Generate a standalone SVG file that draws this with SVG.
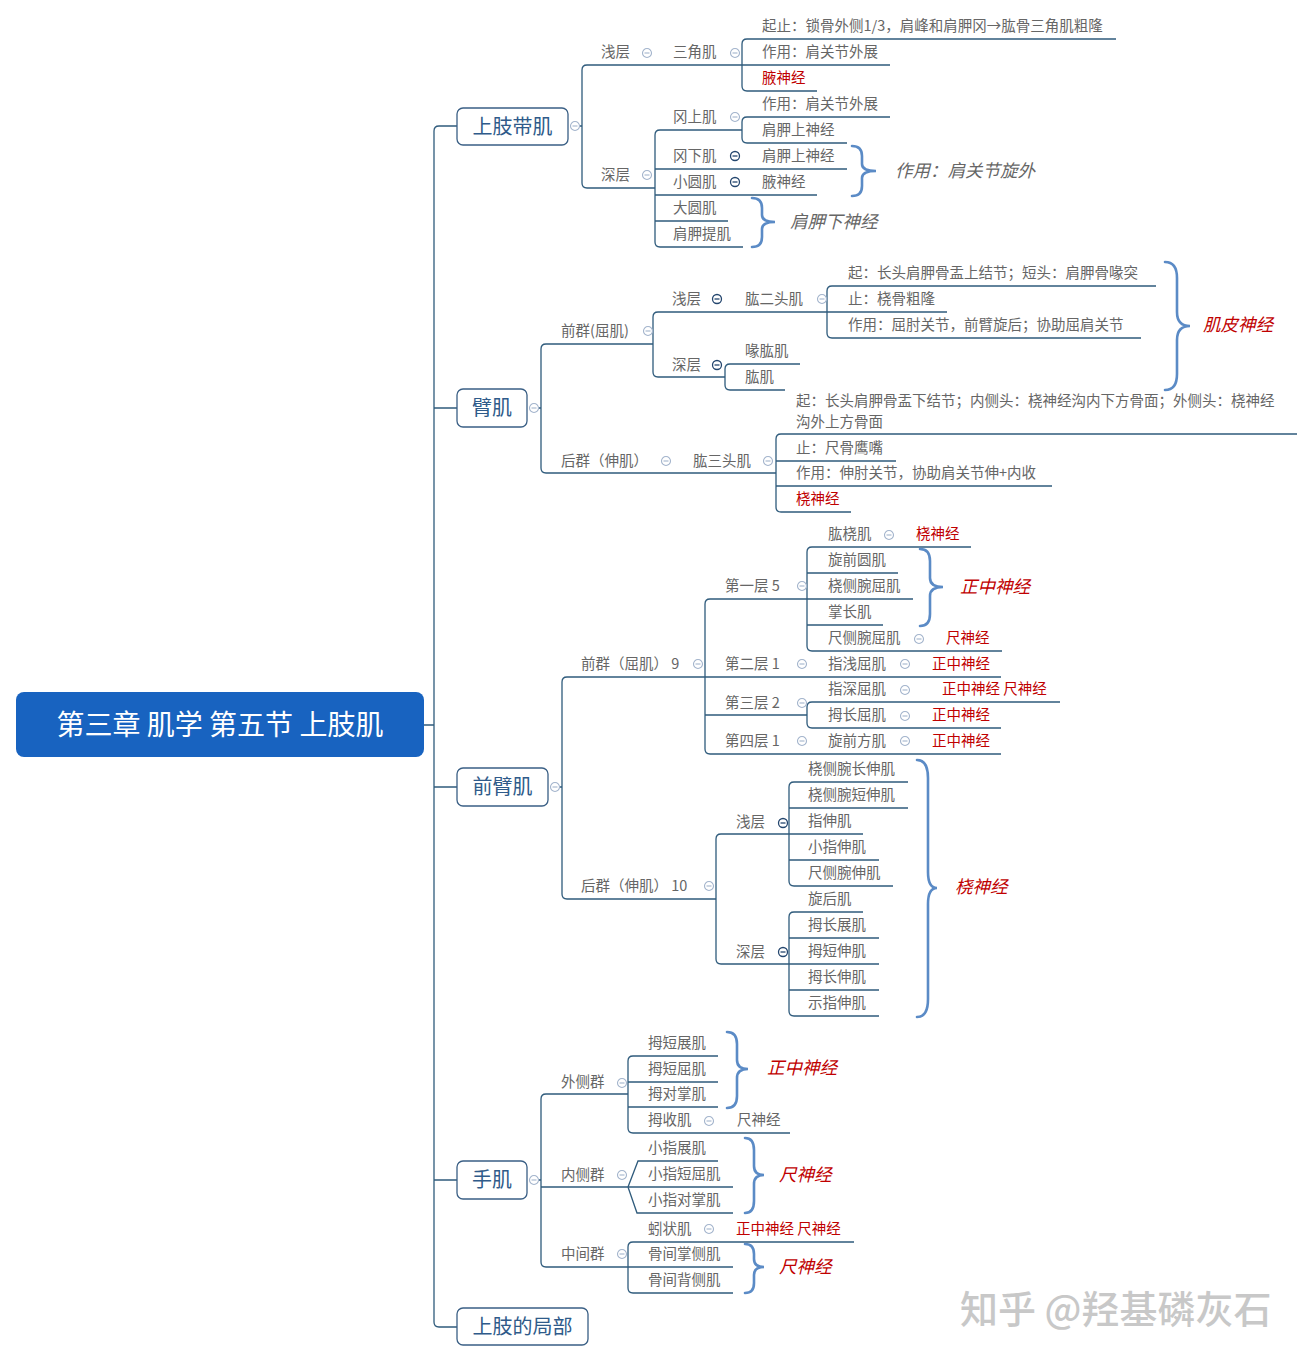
<svg xmlns="http://www.w3.org/2000/svg" width="1314" height="1363" viewBox="0 0 1314 1363">
<style>
text{font-family:"Noto Sans CJK SC","Noto Sans",sans-serif;}
.t{font-size:14.5px;fill:#666;}
.r{font-size:14.5px;fill:#c00000;}
.it{font-size:17.5px;font-style:italic;fill:#666;}
.ir{font-size:17.5px;font-style:italic;fill:#c00000;}
.mn{font-size:20px;fill:#2f5b8a;text-anchor:middle;}
.box{fill:#fff;stroke:#3a5f85;stroke-width:1.3;}
.ln{fill:none;stroke:#2f5b7c;stroke-width:1.3;}
.br{fill:none;stroke:#5b8bc6;stroke-width:2.6;stroke-linecap:round;}
.mk{fill:#fff;stroke:#a3b4cc;stroke-width:1.1;}
.mkd{fill:#fff;stroke:#24466e;stroke-width:1.3;}
</style>
<defs>
<g id="m"><circle r="4.5" class="mk"/><path d="M-2.5 0H2.5" stroke="#a3b4cc" stroke-width="1.1"/></g>
<g id="md"><circle r="4.5" class="mkd"/><path d="M-2.5 0H2.5" stroke="#24466e" stroke-width="1.3"/></g>
</defs>

<g id="connectors" class="ln">
<!-- trunk -->
<path d="M457 126H439Q434 126 434 131V1322Q434 1327 439 1327H457M434 408H457M434 787H457M434 1180H457M424 725H434"/>
<!-- 上肢带肌 -->
<path d="M580 126H582M890 65H587Q582 65 582 70V183Q582 188 587 188H655"/>
<path d="M1116 39H747Q742 39 742 44V86Q742 91 747 91H817"/>
<path d="M742 130H660Q655 130 655 135V242Q655 247 660 247H743M655 169H847M655 195H817M655 221H728"/>
<path d="M890 117H747Q742 117 742 122V138Q742 143 747 143H847"/>
<!-- 臂肌 -->
<path d="M539 408H541M653 344H546Q541 344 541 349V468Q541 473 546 473H776"/>
<path d="M827 312H658Q653 312 653 317V372Q653 377 658 377H725M827 312H947"/>
<path d="M800 364H730Q725 364 725 369V385Q725 390 730 390H785"/>
<path d="M1156 286H832Q827 286 827 291V333Q827 338 832 338H1141"/>
<path d="M1297 434H781Q776 434 776 439V507Q776 512 781 512H851M776 461H896M776 486H1052"/>
<!-- 前臂肌 -->
<path d="M560 787H562M1001 677H567Q562 677 562 682V894Q562 899 567 899H716"/>
<path d="M913 599H710Q705 599 705 604V749Q705 754 710 754H1001M705 715H807"/>
<path d="M971 547H812Q807 547 807 552V646Q807 651 812 651H1002M807 573H898M807 625H883"/>
<path d="M1060 702H812Q807 702 807 707V723Q807 728 812 728H1001"/>
<path d="M863 834H721Q716 834 716 839V959Q716 964 721 964H879"/>
<path d="M908 782H794Q789 782 789 787V881Q789 886 794 886H893M789 808H908M789 860H879"/>
<path d="M863 912H794Q789 912 789 917V1011Q789 1016 794 1016H879M789 938H879M789 990H879"/>
<!-- 手肌 -->
<path d="M539 1180H541M628 1094H546Q541 1094 541 1099V1262Q541 1267 546 1267H733M541 1187H733"/>
<path d="M718 1056H633Q628 1056 628 1061V1128Q628 1133 633 1133H790M628 1082H718M628 1107H718"/>
<path d="M628 1187L638 1161H718M628 1187L637 1213H733"/>
<path d="M854 1242H633Q628 1242 628 1247V1288Q628 1293 633 1293H733"/>
</g>

<g id="braces" class="br">
<path d="M852 146Q862 146 862 156V164Q862 171 876 171Q862 171 862 178V186Q862 196 852 196"/>
<path d="M752 198Q762 198 762 208V215Q762 222 775 222Q762 222 762 229V237Q762 247 752 247"/>
<path d="M1165 262Q1177 262 1177 278V312Q1177 326 1190 326Q1177 326 1177 340V374Q1177 390 1165 390"/>
<path d="M920 549Q930 549 930 561V578Q930 587 943 587Q930 587 930 596V614Q930 626 920 626"/>
<path d="M917 760Q928 760 928 778V872Q928 888 937 888Q928 888 928 904V999Q928 1017 917 1017"/>
<path d="M727 1032Q737 1032 737 1044V1060Q737 1069 748 1069Q737 1069 737 1078V1096Q737 1108 727 1108"/>
<path d="M745 1138Q754 1138 754 1150V1166Q754 1175 764 1175Q754 1175 754 1184V1201Q754 1213 745 1213"/>
<path d="M745 1244Q754 1244 754 1254V1259Q754 1267 764 1267Q754 1267 754 1275V1283Q754 1293 745 1293"/>
</g>

<g id="root">
<rect x="16" y="692" width="408" height="65" rx="8" fill="#1863c0"/>
<text x="220" y="735" font-size="28" fill="#fff" text-anchor="middle">第三章 肌学 第五节 上肢肌</text>
</g>

<g id="n-shangzhidaiji">
<rect class="box" x="457" y="108" width="111" height="37" rx="6"/>
<text class="mn" x="512.5" y="134">上肢带肌</text>
<use href="#m" x="575" y="126"/>
<text class="t" x="601" y="57">浅层</text><use href="#m" x="647" y="53"/>
<text class="t" x="673" y="57">三角肌</text><use href="#m" x="735" y="53"/>
<text class="t" x="762" y="31">起止：锁骨外侧1/3，肩峰和肩胛冈→肱骨三角肌粗隆</text>
<text class="t" x="762" y="57">作用：肩关节外展</text>
<text class="r" x="762" y="83">腋神经</text>
<text class="t" x="601" y="180">深层</text><use href="#m" x="647" y="175"/>
<text class="t" x="673" y="122">冈上肌</text><use href="#m" x="735" y="117"/>
<text class="t" x="762" y="109">作用：肩关节外展</text>
<text class="t" x="762" y="135">肩胛上神经</text>
<text class="t" x="673" y="161">冈下肌</text><use href="#md" x="735" y="156"/>
<text class="t" x="762" y="161">肩胛上神经</text>
<text class="t" x="673" y="187">小圆肌</text><use href="#md" x="735" y="182"/>
<text class="t" x="762" y="187">腋神经</text>
<text class="t" x="673" y="213">大圆肌</text>
<text class="t" x="673" y="239">肩胛提肌</text>
<text class="it" x="895" y="177">作用：肩关节旋外</text>
<text class="it" x="790" y="228">肩胛下神经</text>
</g>

<g id="n-biji">
<rect class="box" x="457" y="389" width="70" height="38" rx="6"/>
<text class="mn" x="492" y="415">臂肌</text>
<use href="#m" x="534" y="408"/>
<text class="t" x="561" y="336">前群(屈肌)</text><use href="#m" x="648" y="331"/>
<text class="t" x="672" y="304">浅层</text><use href="#md" x="717" y="299"/>
<text class="t" x="745" y="304">肱二头肌</text><use href="#m" x="822" y="299"/>
<text class="t" x="848" y="278">起：长头肩胛骨盂上结节；短头：肩胛骨喙突</text>
<text class="t" x="848" y="304">止：桡骨粗隆</text>
<text class="t" x="848" y="330">作用：屈肘关节，前臂旋后；协助屈肩关节</text>
<text class="t" x="672" y="370">深层</text><use href="#md" x="717" y="365"/>
<text class="t" x="745" y="356">喙肱肌</text>
<text class="t" x="745" y="382">肱肌</text>
<text class="ir" x="1203" y="331">肌皮神经</text>
<text class="t" x="561" y="466">后群（伸肌）</text><use href="#m" x="666" y="461"/>
<text class="t" x="693" y="466">肱三头肌</text><use href="#m" x="768" y="461"/>
<text class="t" x="796" y="406">起：长头肩胛骨盂下结节；内侧头：桡神经沟内下方骨面；外侧头：桡神经<tspan x="796" dy="21">沟外上方骨面</tspan></text>
<text class="t" x="796" y="453">止：尺骨鹰嘴</text>
<text class="t" x="796" y="478">作用：伸肘关节，协助肩关节伸+内收</text>
<text class="r" x="796" y="504">桡神经</text>
</g>

<g id="n-qianbiji">
<rect class="box" x="457" y="768" width="91" height="38" rx="6"/>
<text class="mn" x="502.5" y="794">前臂肌</text>
<use href="#m" x="555" y="787"/>
<text class="t" x="581" y="669">前群（屈肌） 9</text><use href="#m" x="698" y="664"/>
<text class="t" x="725" y="591">第一层 5</text><use href="#m" x="802" y="586"/>
<text class="t" x="828" y="539">肱桡肌</text><use href="#m" x="889" y="535"/>
<text class="r" x="916" y="539">桡神经</text>
<text class="t" x="828" y="565">旋前圆肌</text>
<text class="t" x="828" y="591">桡侧腕屈肌</text>
<text class="t" x="828" y="617">掌长肌</text>
<text class="t" x="828" y="643">尺侧腕屈肌</text><use href="#m" x="919" y="639"/>
<text class="r" x="946" y="643">尺神经</text>
<text class="ir" x="960" y="593">正中神经</text>
<text class="t" x="725" y="669">第二层 1</text><use href="#m" x="802" y="664"/>
<text class="t" x="828" y="669">指浅屈肌</text><use href="#m" x="905" y="664"/>
<text class="r" x="932" y="669">正中神经</text>
<text class="t" x="725" y="708">第三层 2</text><use href="#m" x="802" y="703"/>
<text class="t" x="828" y="694">指深屈肌</text><use href="#m" x="905" y="690"/>
<text class="r" x="942" y="694">正中神经 尺神经</text>
<text class="t" x="828" y="720">拇长屈肌</text><use href="#m" x="905" y="716"/>
<text class="r" x="932" y="720">正中神经</text>
<text class="t" x="725" y="746">第四层 1</text><use href="#m" x="802" y="741"/>
<text class="t" x="828" y="746">旋前方肌</text><use href="#m" x="905" y="741"/>
<text class="r" x="932" y="746">正中神经</text>
<text class="t" x="581" y="891">后群（伸肌） 10</text><use href="#m" x="709" y="886"/>
<text class="t" x="736" y="827">浅层</text><use href="#md" x="783" y="823"/>
<text class="t" x="808" y="774">桡侧腕长伸肌</text>
<text class="t" x="808" y="800">桡侧腕短伸肌</text>
<text class="t" x="808" y="826">指伸肌</text>
<text class="t" x="808" y="852">小指伸肌</text>
<text class="t" x="808" y="878">尺侧腕伸肌</text>
<text class="t" x="736" y="957">深层</text><use href="#md" x="783" y="952"/>
<text class="t" x="808" y="904">旋后肌</text>
<text class="t" x="808" y="930">拇长展肌</text>
<text class="t" x="808" y="956">拇短伸肌</text>
<text class="t" x="808" y="982">拇长伸肌</text>
<text class="t" x="808" y="1008">示指伸肌</text>
<text class="ir" x="955" y="893">桡神经</text>
</g>

<g id="n-shouji">
<rect class="box" x="457" y="1161" width="70" height="38" rx="6"/>
<text class="mn" x="492" y="1187">手肌</text>
<use href="#m" x="534" y="1180"/>
<text class="t" x="561" y="1087">外侧群</text><use href="#m" x="622" y="1083"/>
<text class="t" x="648" y="1048">拇短展肌</text>
<text class="t" x="648" y="1074">拇短屈肌</text>
<text class="t" x="648" y="1099">拇对掌肌</text>
<text class="t" x="648" y="1125">拇收肌</text><use href="#m" x="709" y="1121"/>
<text class="t" x="737" y="1125">尺神经</text>
<text class="ir" x="767" y="1074">正中神经</text>
<text class="t" x="561" y="1180">内侧群</text><use href="#m" x="622" y="1175"/>
<text class="t" x="648" y="1153">小指展肌</text>
<text class="t" x="648" y="1179">小指短屈肌</text>
<text class="t" x="648" y="1205">小指对掌肌</text>
<text class="ir" x="779" y="1181">尺神经</text>
<text class="t" x="561" y="1259">中间群</text><use href="#m" x="622" y="1254"/>
<text class="t" x="648" y="1234">蚓状肌</text><use href="#m" x="709" y="1229"/>
<text class="r" x="736" y="1234">正中神经 尺神经</text>
<text class="t" x="648" y="1259">骨间掌侧肌</text>
<text class="t" x="648" y="1285">骨间背侧肌</text>
<text class="ir" x="779" y="1273">尺神经</text>
</g>

<g id="n-jubu">
<rect class="box" x="457" y="1308" width="131" height="37" rx="6"/>
<text class="mn" x="522.5" y="1334">上肢的局部</text>
</g>

<text x="960" y="1323" font-size="38" fill="#c8c8c8" font-weight="500">知乎 @羟基磷灰石</text>
</svg>
